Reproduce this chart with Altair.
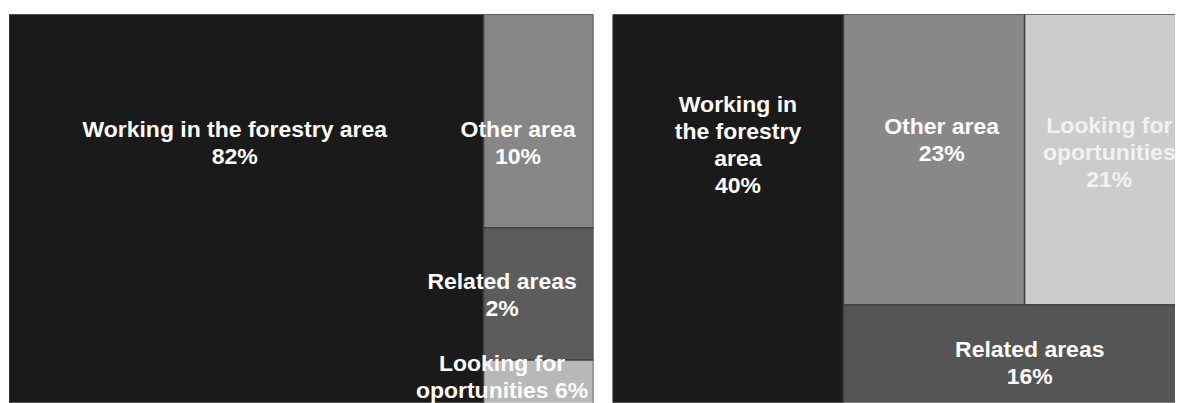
import altair as alt
import pandas as pd

# ---------------- data ----------------
left_categories = ["Working in the forestry area", "Other area", "Related areas", "Looking for\noportunities"]
left_percent = [82, 10, 2, 6]             # printed labels
left_tile_size = [79, 10, 6.2, 2.1]       # tile areas as drawn in the picture

right_categories = ["Working in\nthe forestry\narea", "Other area", "Looking for\noportunities", "Related areas"]
right_percent = [40, 23, 21, 16]
right_tile_size = [40, 23, 21, 16]

# ---------------- styles ----------------
left_fill = ["#1a1a1a", "#878787", "#5c5c5c", "#b8b8b8"]
right_fill = ["#1a1a1a", "#888888", "#cccccc", "#555555"]
left_text_color = ["#ffffff", "#ffffff", "#ffffff", "#ffffff"]
right_text_color = ["#ffffff", "#ffffff", "#f2f2f2", "#ffffff"]
left_sep = ["\n", "\n", "\n", " "]
right_sep = ["\n", "\n", "\n", "\n"]
# label nudges (px) from tile centre to first-line baseline anchor
left_nudge = [(-11.5, -72.5), (-20.5, 16), (-36.5, -4.5), (-36.5, -11)]
right_nudge = [(10, -100.5), (7.6, -25.5), (2, -26.5), (13, -1)]


def squarify(values, x, y, w, h):
    total = float(sum(values))
    areas = [v * w * h / total for v in values]

    def worst(row, length):
        s = sum(row)
        return max(max(length ** 2 * r / s ** 2, s ** 2 / (length ** 2 * r)) for r in row)

    rects = []
    while areas:
        length = min(w, h)
        row = [areas[0]]
        i = 1
        while i < len(areas) and worst(row + [areas[i]], length) <= worst(row, length):
            row.append(areas[i])
            i += 1
        areas = areas[i:]
        s = sum(row)
        if w >= h:
            cw = s / h
            yy = y
            for a in row:
                rh = a / cw
                rects.append((x, yy, x + cw, yy + rh))
                yy += rh
            x += cw
            w -= cw
        else:
            rh = s / w
            xx = x
            for a in row:
                rw = a / rh
                rects.append((xx, y, xx + rw, y + rh))
                xx += rw
            y += rh
            h -= rh
    return rects


def panel(cats, pcts, sizes, fills, tcols, seps, nudges, box_w, box_h, view_w, view_h):
    rects = squarify(sizes, 0, 0, box_w, box_h)
    rows = []
    for c, p, f, tc, sp, (dx, dy), (x0, y0, x1, y1) in zip(cats, pcts, fills, tcols, seps, nudges, rects):
        rows.append(dict(cat=c, label=f"{c}{sp}{p}%", x0=x0, y0=y0, x1=x1, y1=y1,
                         lx=(x0 + x1) / 2 + dx, ly=(y0 + y1) / 2 + dy, fill=f, tcolor=tc))
    df = pd.DataFrame(rows)
    xs = alt.Scale(domain=[0, view_w], nice=False, zero=False)
    ys = alt.Scale(domain=[0, view_h], nice=False, zero=False, reverse=True)
    base = alt.Chart(df)
    rect = base.mark_rect(stroke="#404040", strokeWidth=1.5, clip=True).encode(
        x=alt.X("x0:Q", scale=xs, axis=None), x2="x1:Q",
        y=alt.Y("y0:Q", scale=ys, axis=None), y2="y1:Q",
        fill=alt.Fill("fill:N", scale=None),
    )
    text = base.mark_text(font="Liberation Sans", fontWeight="bold", fontSize=23, lineHeight=27,
                          lineBreak="\n", align="center", baseline="alphabetic").encode(
        x=alt.X("lx:Q", scale=xs, axis=None),
        y=alt.Y("ly:Q", scale=ys, axis=None),
        text="label:N",
        color=alt.Color("tcolor:N", scale=None),
    )
    return alt.layer(rect, text).properties(width=view_w, height=view_h)


left = panel(left_categories, left_percent, left_tile_size, left_fill, left_text_color,
             left_sep, left_nudge, 585, 391, 585, 389)
right = panel(right_categories, right_percent, right_tile_size, right_fill, right_text_color,
              right_sep, right_nudge, 578, 397, 563, 389)

chart = alt.hconcat(left, right, spacing=19).properties(
    padding={"left": 1, "top": 6, "right": 0, "bottom": 0},
    background="white",
).configure_view(stroke=None)

chart.save("out.html", embed_options={"renderer": "svg", "actions": False})
